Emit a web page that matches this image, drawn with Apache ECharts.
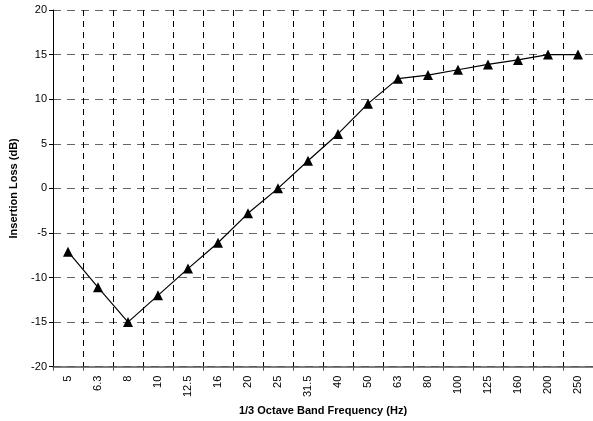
<!DOCTYPE html>
<html><head><meta charset="utf-8">
<script src="https://cdn.jsdelivr.net/npm/echarts@6/dist/echarts.min.js"></script>
<style>html,body{margin:0;padding:0;background:#fff}#c{width:593px;height:421px}</style>
</head><body><div id="c"></div>
<script>
const categories = ['5','6.3','8','10','12.5','16','20','25','31.5','40','50','63','80','100','125','160','200','250'];
const insertionLoss = [-7.1,-11.1,-15,-12,-9,-6.1,-2.8,0,3.1,6.1,9.5,12.3,12.7,13.3,13.9,14.4,15,15];
const yTicks = {min:-20, max:20, interval:5};
const chart = echarts.init(document.getElementById('c'));
const font = 'Liberation Sans, Arial, sans-serif';
chart.setOption({
  animation:false,
  grid:{left:52,top:10,right:0,bottom:54},
  xAxis:{type:'category',data:categories,boundaryGap:true,
    name:'1/3 Octave Band Frequency (Hz)',nameLocation:'middle',nameGap:36,
    nameTextStyle:{fontFamily:font,fontSize:11,fontWeight:'bold',color:'#000'},
    axisLine:{onZero:false,lineStyle:{color:'#555',width:1.5}},
    axisTick:{show:true,length:4,lineStyle:{color:'#555'}},
    axisLabel:{rotate:90,interval:0,fontFamily:font,fontSize:11,color:'#000',margin:9},
    splitLine:{show:true,lineStyle:{color:'#000',type:[6,5],width:1}}},
  yAxis:{type:'value',min:yTicks.min,max:yTicks.max,interval:yTicks.interval,
    name:'Insertion Loss (dB)',nameLocation:'middle',nameGap:34,
    nameTextStyle:{fontFamily:font,fontSize:11,fontWeight:'bold',color:'#000'},
    axisLine:{show:true,onZero:false,lineStyle:{color:'#000',width:1}},
    axisTick:{show:true,length:4,lineStyle:{color:'#000'}},
    axisLabel:{fontFamily:font,fontSize:11,color:'#000',margin:6},
    splitLine:{show:true,lineStyle:{color:'#666',type:[8,6],width:1}}},
  series:[{type:'line',data:insertionLoss,symbol:'triangle',symbolSize:10,
    itemStyle:{color:'#000'},lineStyle:{color:'#000',width:1.2}}]
});
</script></body></html>
